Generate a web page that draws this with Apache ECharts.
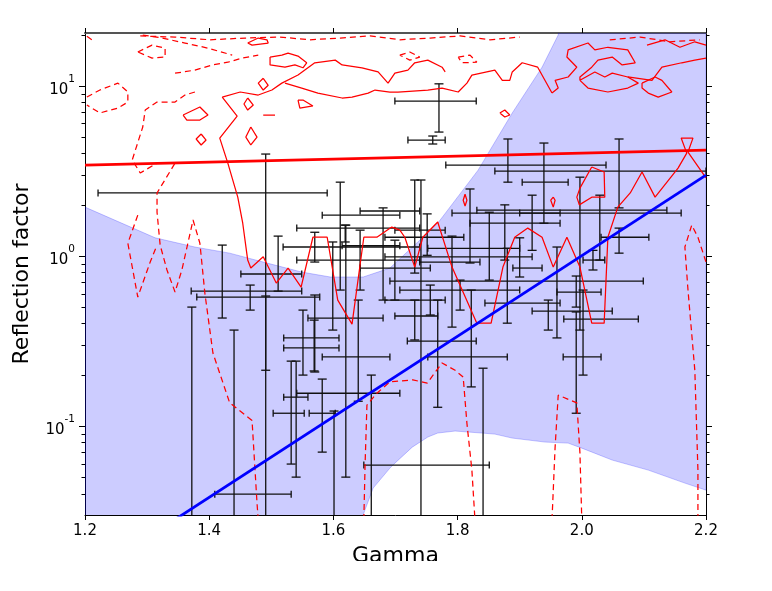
<!DOCTYPE html>
<html><head><meta charset="utf-8">
<script src="https://cdn.jsdelivr.net/npm/echarts@6/dist/echarts.min.js"></script>
<style>html,body{margin:0;padding:0;background:#fff;width:772px;height:591px;overflow:hidden}#c{width:772px;height:561px}</style>
</head><body><div id="c"></div><script>
// ---- axis ticks ----
const xTicks = [1.2, 1.4, 1.6, 1.8, 2.0, 2.2];
const yMajorTicks = [0.1, 1, 10];
const yMinorTicks = [0.04,0.05,0.06,0.07,0.08,0.09,0.2,0.3,0.4,0.5,0.6,0.7,0.8,0.9,2,3,4,5,6,7,8,9,20];

// ---- shaded band (upper edge left->right, lower edge right->left) ----
const bandUpper = [[1.2,1.94],[1.313,1.28],[1.377,1.13],[1.433,1.04],[1.487,0.922],[1.549,0.805],[1.595,0.753],[1.648,0.753],[1.691,0.85],[1.736,1.21],[1.768,1.56],[1.833,3.2],[1.888,6.94],[1.936,12.9],[1.962,19.95],[1.975,40],[2.2,40]];
const bandLower = [[2.2,0.042],[2.166,0.0462],[2.107,0.0551],[2.049,0.0631],[2.0,0.0742],[1.978,0.0794],[1.941,0.0805],[1.888,0.085],[1.86,0.0897],[1.839,0.091],[1.796,0.0935],[1.768,0.091],[1.752,0.0862],[1.727,0.0752],[1.699,0.0605],[1.691,0.0566],[1.664,0.0432],[1.649,0.0308],[1.646,0.028],[1.64,0.01],[1.2,0.01]];

// ---- fitted lines ----
const redFit = [[1.2,3.43],[2.2,4.2]];
const blueFit = [[1.2,0.0128],[2.2,2.99]];

// ---- data points with asymmetric errors ----
const ebX     = [1.491,1.491,1.770,1.760,1.881,2.060,1.939,2.060,1.997,2.029,2.018,1.960,1.991,1.991,2.002,1.946,1.611,1.619,1.680,1.511,1.570,1.599,1.421,1.466,1.731,1.751,1.820,1.851,1.791,1.756,1.880,1.900,1.920,1.731,1.768,1.822,1.741,1.841,1.372,1.440,1.601,1.620,1.661,1.551,1.569,1.540,1.532,1.582,1.640,1.570,1.643,1.699,1.876,1.804];
const ebXLow  = [1.221,1.409,1.699,1.720,1.781,1.860,1.904,2.031,1.831,1.900,2.002,1.691,1.960,1.970,1.971,1.920,1.582,1.541,1.643,1.451,1.519,1.541,1.371,1.380,1.699,1.683,1.752,1.683,1.739,1.683,1.844,1.889,1.791,1.699,1.719,1.752,1.649,1.820,1.361,1.430,1.591,1.582,1.651,1.520,1.520,1.520,1.503,1.561,1.541,1.559,1.614,1.643,1.820,1.707];
const ebXHigh = [1.590,1.532,1.830,1.780,2.039,2.200,1.978,2.108,2.137,2.160,2.037,2.099,2.031,2.031,2.091,2.049,1.707,1.739,1.739,1.549,1.739,1.739,1.549,1.578,1.780,1.810,1.900,1.920,1.836,1.780,1.965,1.936,1.965,1.768,1.830,1.880,1.851,1.860,1.385,1.450,1.611,1.691,1.672,1.609,1.609,1.559,1.553,1.603,1.707,1.680,1.707,1.756,1.965,1.900];
const ebY     = [2.35,0.0398,8.16,4.81,3.43,3.16,2.72,1.29,1.86,1.79,0.947,0.713,0.614,0.255,0.426,0.475,1.74,1.46,1.84,0.784,1.13,0.947,0.622,0.574,1.42,1.29,1.11,0.99,0.922,0.551,0.529,0.85,1.79,0.444,0.316,0.255,0.059,0.0163,0.0163,0.0163,0.0163,0.255,0.0163,0.330,0.288,0.148,0.119,0.119,0.156,0.432,1.15,0.85,1.56,0.631];
const ebYHigh = [3.98,0.582,10.3,5.08,4.88,4.88,4.62,1.46,2.91,2.28,1.08,1.13,0.763,0.469,0.631,0.551,2.72,1.52,1.92,1.31,1.38,1.21,1.16,0.675,2.80,1.77,2.48,1.81,1.31,0.675,1.11,1.28,2.28,0.551,0.551,0.631,2.80,0.219,0.501,0.367,0.1226,1.52,0.1995,0.481,0.420,0.241,0.241,0.189,0.551,0.590,1.42,1.24,2.0,0.722];
const ebYLow  = [0.213,0.0095,5.36,4.56,2.72,1.92,1.56,1.04,0.367,0.947,0.828,0.330,0.501,0.119,0.1995,0.367,0.631,1.21,0.551,0.622,0.922,0.367,0.432,0.481,0.794,1.01,0.91,0.722,0.382,0.450,0.403,0.753,1.08,0.321,0.129,0.170,0.0095,0.0095,0.0095,0.0095,0.0095,0.0501,0.0095,0.1995,0.211,0.0501,0.0598,0.0703,0.140,0.208,0.631,0.551,0.947,0.481];

// ---- solid contours ----
const solidMain = [[1.421,8.61],[1.445,6.66],[1.417,4.94],[1.430,3.52],[1.446,2.22],[1.454,1.56],[1.462,0.947],[1.467,0.85],[1.487,0.99],[1.508,0.694],[1.527,0.85],[1.548,0.657],[1.567,1.29],[1.590,1.29],[1.607,0.551],[1.630,0.398],[1.649,1.29],[1.670,1.29],[1.694,1.48],[1.707,1.42],[1.715,1.29],[1.731,0.861],[1.744,1.29],[1.768,1.585],[1.791,0.861],[1.831,0.403],[1.854,0.403],[1.873,0.861],[1.892,1.29],[1.913,1.46],[1.936,1.29],[1.954,0.861],[1.976,1.29],[1.997,0.861],[2.016,0.403],[2.036,0.403],[2.042,1.29],[2.058,1.94],[2.078,2.35],[2.097,3.12],[2.118,2.22],[2.155,3.29],[2.169,4.03],[2.160,4.94],[2.179,4.94],[2.171,4.09],[2.2,2.88]];
const solidTopA = [[1.421,8.61],[1.450,9.22],[1.479,8.85],[1.501,9.47],[1.517,10.4],[1.543,11.6],[1.570,13.7],[1.603,14.2],[1.614,13.3],[1.646,12.8],[1.672,12.1],[1.688,10.4],[1.699,11.9],[1.720,12.4],[1.731,13.7],[1.752,14.2],[1.775,12.9],[1.780,12.1]];
const solidTopB = [[1.522,10.4],[1.549,9.73],[1.575,9.09],[1.614,8.50],[1.630,8.61],[1.656,9.09],[1.667,9.47],[1.691,9.22],[1.704,9.22],[1.752,9.47],[1.775,9.73],[1.801,9.22],[1.815,10.4],[1.823,11.6],[1.860,12.4],[1.872,10.8],[1.884,10.8],[1.888,12.1],[1.904,13.7],[1.929,12.9],[1.952,9.09]];
const solidTopRight = [[1.952,9.09],[1.962,9.73],[1.957,10.8],[1.978,11.3],[1.992,12.9],[1.976,14.8],[1.978,16.3],[2.010,17.9],[2.021,16.3],[2.042,16.9],[2.074,16.3],[2.086,13.7],[2.065,13.3],[2.049,14.8],[2.026,14.2],[2.016,12.9],[1.997,11.3],[1.997,10.8],[2.021,12.1],[2.037,11.3],[2.049,11.9],[2.074,11.3],[2.113,10.8],[2.129,12.9],[2.161,13.7],[2.182,14.2],[2.2,14.6]];
const solidStar = [[1.997,10.8],[2.010,9.73],[2.042,9.22],[2.074,9.73],[2.091,10.4],[2.074,11.3]];
const solidLoopR = [[2.097,10.4],[2.118,11.3],[2.129,10.8],[2.145,9.22],[2.123,8.61],[2.107,9.09],[2.097,9.73],[2.097,10.4]];
const solidTopEdge = [[2.105,17.4],[2.134,18.7],[2.158,16.9],[2.182,18.2],[2.2,17.4]];
const blobG = [[1.358,6.75],[1.385,7.52],[1.398,6.75],[1.385,6.31],[1.364,6.31],[1.358,6.75]];
const blobH = [[1.387,5.22],[1.395,4.81],[1.387,4.50],[1.379,4.88],[1.387,5.22]];
const blobE = [[1.462,8.50],[1.471,7.73],[1.462,7.22],[1.456,7.84],[1.462,8.50]];
const blobF = [[1.467,5.74],[1.477,5.01],[1.467,4.50],[1.459,5.01],[1.467,5.74]];
const blobD = [[1.487,11.1],[1.495,10.1],[1.487,9.47],[1.479,10.4],[1.487,11.1]];
const blobB = [[1.498,14.8],[1.517,15.2],[1.527,15.6],[1.543,15.0],[1.557,13.7],[1.551,12.8],[1.538,13.3],[1.522,12.9],[1.498,13.3],[1.498,14.8]];
const blobA = [[1.462,17.9],[1.479,19.15],[1.493,18.7],[1.495,17.9],[1.469,17.4],[1.462,17.9]];
const blobI = [[1.543,8.27],[1.551,8.27],[1.567,7.63],[1.546,7.42],[1.543,8.27]];
const blobJ = [[1.487,6.75],[1.506,6.75]];
const blobK = [[1.868,6.94],[1.876,7.22],[1.884,6.75],[1.876,6.57],[1.868,6.94]];
const blobL = [[1.812,2.31],[1.815,2.13],[1.812,1.97],[1.809,2.13],[1.812,2.31]];
const blobM = [[1.954,2.22],[1.957,2.13],[1.954,1.94],[1.950,2.13],[1.954,2.22]];
const blobN = [[2.016,3.34],[2.036,3.12],[2.037,2.22],[2.016,2.22],[1.996,2.0],[1.992,2.22],[1.997,2.51],[2.016,3.34]];

// ---- dashed contours ----
const dashLeftLoop = [[1.203,8.61],[1.224,9.47],[1.253,10.4],[1.269,9.22],[1.269,8.05],[1.253,7.42],[1.224,6.94],[1.203,7.73]];
const dashCorner = [[1.203,19.6],[1.211,18.7]];
const dashSmallLoop = [[1.285,15.85],[1.308,17.4],[1.329,16.7],[1.329,14.8],[1.308,14.6],[1.285,15.85]];
const dashTopRow = [[1.293,19.95],[1.324,19.15],[1.361,17.9],[1.398,16.7],[1.437,15.2]];
const dashRow2 = [[1.345,11.9],[1.377,12.4],[1.405,13.3],[1.430,13.8],[1.453,14.6],[1.479,15.2]];
const dashLong = [[1.377,9.22],[1.361,8.85],[1.345,8.05],[1.316,8.05],[1.297,7.22],[1.293,5.74],[1.276,3.67],[1.289,3.08],[1.316,3.52],[1.345,3.52],[1.316,2.35],[1.316,1.81],[1.321,1.16],[1.332,0.828],[1.345,0.614],[1.356,0.828],[1.374,1.63],[1.385,1.19],[1.393,0.606],[1.406,0.269],[1.433,0.137],[1.469,0.108],[1.477,0.0352],[1.479,0.028]];
const dashV = [[1.285,1.74],[1.269,1.19],[1.285,0.574],[1.305,0.922],[1.316,1.16]];
const dashMid1 = [[1.649,0.028],[1.651,0.059],[1.654,0.133],[1.670,0.156],[1.691,0.182],[1.728,0.187],[1.751,0.179],[1.775,0.235],[1.796,0.213],[1.809,0.194],[1.815,0.104],[1.823,0.0551],[1.828,0.028]];
const dashMid2 = [[1.952,0.028],[1.957,0.075],[1.962,0.152],[1.992,0.137],[1.997,0.0694],[2.000,0.028]];
const dashRight = [[2.187,0.028],[2.187,0.0551],[2.182,0.213],[2.171,0.631],[2.166,1.13],[2.177,1.52],[2.187,1.29],[2.2,0.922]];
const dashTopEdge = [[1.289,19.7],[1.345,19.4],[1.401,18.7],[1.458,19.15],[1.514,19.4],[1.562,18.7],[1.611,19.15],[1.659,19.7],[1.707,18.7],[1.756,19.15],[1.804,19.7],[1.852,18.7],[1.900,19.4]];
const dashLoopT1 = [[1.707,15.2],[1.723,15.85],[1.739,14.8],[1.723,14.2],[1.707,15.2]];
const dashLoopT2 = [[1.801,14.8],[1.820,15.2],[1.831,13.8],[1.807,13.7],[1.801,14.8]];
const dashTopRight = [[2.045,18.7],[2.094,19.4],[2.142,18.2],[2.190,18.7]];

const solidContours = [solidMain, solidTopA, solidTopB, solidTopRight, solidStar, solidLoopR, solidTopEdge, blobG, blobH, blobE, blobF, blobD, blobB, blobA, blobI, blobJ, blobK, blobL, blobM, blobN];
const dashedContours = [dashLeftLoop, dashCorner, dashSmallLoop, dashTopRow, dashRow2, dashLong, dashV, dashMid1, dashMid2, dashRight, dashTopEdge, dashLoopT1, dashLoopT2, dashTopRight];

const FONT = 'DejaVu Sans';
const chart = echarts.init(document.getElementById('c'), null, {renderer: 'canvas'});

const ebData = ebX.map((v, i) => [v, ebXLow[i], ebXHigh[i], ebY[i], ebYLow[i], ebYHigh[i]]);

function renderErr(params, api) {
  const x = api.value(0), xl = api.value(1), xh = api.value(2);
  const y = api.value(3), yl = api.value(4), yh = api.value(5);
  const c = api.coord([x, y]);
  const pl = api.coord([xl, y]), ph = api.coord([xh, y]);
  const pt = api.coord([x, yh]), pb = api.coord([x, yl]);
  const st = {stroke: '#111', lineWidth: 1.3};
  const cw = 4.5, ch = 3.5;
  return {type: 'group', children: [
    {type: 'line', shape: {x1: pl[0], y1: c[1], x2: ph[0], y2: c[1]}, style: st},
    {type: 'line', shape: {x1: c[0], y1: pt[1], x2: c[0], y2: pb[1]}, style: st},
    {type: 'line', shape: {x1: pl[0], y1: c[1] - ch, x2: pl[0], y2: c[1] + ch}, style: st},
    {type: 'line', shape: {x1: ph[0], y1: c[1] - ch, x2: ph[0], y2: c[1] + ch}, style: st},
    {type: 'line', shape: {x1: c[0] - cw, y1: pt[1], x2: c[0] + cw, y2: pt[1]}, style: st},
    {type: 'line', shape: {x1: c[0] - cw, y1: pb[1], x2: c[0] + cw, y2: pb[1]}, style: st}
  ]};
}

function renderBand(params, api) {
  const pts = bandUpper.concat(bandLower).map(p => api.coord(p));
  return {type: 'polygon', shape: {points: pts},
    style: {fill: 'rgba(0,0,255,0.2)', stroke: 'rgba(0,0,255,0.22)', lineWidth: 1}};
}

const series = [];
series.push({type: 'custom', name: 'band', renderItem: renderBand, data: [[1.5, 1]], clip: true, z: 1, silent: true, animation: false});
series.push({type: 'custom', name: 'points', renderItem: renderErr, data: ebData, clip: true, z: 2,
  encode: {x: [0, 1, 2], y: [3, 4, 5]}, animation: false, silent: true});
solidContours.forEach(d => series.push({type: 'line', data: d, symbol: 'none', clip: true, z: 3, silent: true, animation: false,
  lineStyle: {color: '#ff0000', width: 1.25, type: 'solid'}}));
dashedContours.forEach(d => series.push({type: 'line', data: d, symbol: 'none', clip: true, z: 3, silent: true, animation: false,
  lineStyle: {color: '#ff0000', width: 1.25, type: [6, 4]}}));
series.push({type: 'line', data: redFit, symbol: 'none', clip: true, z: 4, animation: false, lineStyle: {color: '#ff0000', width: 2.8}});
series.push({type: 'line', data: blueFit, symbol: 'none', clip: true, z: 5, animation: false, lineStyle: {color: '#0000ff', width: 2.8}});

const yBase = {type: 'log', min: 0.03, max: 20.5, splitLine: {show: false}};
chart.setOption({
  animation: false,
  backgroundColor: '#fff',
  grid: {left: 85, right: 66, top: 33, bottom: 46, containLabel: false, outerBoundsMode: 'none'},
  xAxis: [
    {type: 'value', position: 'bottom', min: 1.2, max: 2.2, interval: 0.2,
      name: 'Gamma', nameLocation: 'middle', nameGap: 30,
      nameTextStyle: {fontFamily: FONT, fontSize: 22, color: '#000'},
      axisLine: {show: true, onZero: false, lineStyle: {color: '#000', width: 1}},
      axisTick: {show: true, inside: false, length: 5, customValues: xTicks, lineStyle: {color: '#000'}},
      axisLabel: {show: true, margin: 9, customValues: xTicks, fontFamily: FONT, fontSize: 15, color: '#000',
        formatter: v => Number(v).toFixed(1)},
      splitLine: {show: false}},
    {type: 'value', position: 'top', min: 1.2, max: 2.2, interval: 0.2,
      axisLine: {show: true, onZero: false, lineStyle: {color: '#555', width: 2}},
      axisTick: {show: true, inside: false, length: 5, customValues: xTicks, lineStyle: {color: '#000'}},
      axisLabel: {show: false}, splitLine: {show: false}}
  ],
  yAxis: [
    Object.assign({}, yBase, {position: 'left',
      name: 'Reflection factor', nameLocation: 'middle', nameGap: 52, nameRotate: 90,
      nameTextStyle: {fontFamily: FONT, fontSize: 22, color: '#000'},
      axisLine: {show: true, onZero: false, lineStyle: {color: '#000', width: 1}},
      axisTick: {show: true, inside: false, length: 6, customValues: yMajorTicks, lineStyle: {color: '#000'}},
      axisLabel: {show: true, margin: 10, customValues: yMajorTicks, color: '#000',
        formatter: v => '{b|10}{s|' + Math.round(Math.log10(v)) + '}',
        rich: {b: {fontFamily: FONT, fontSize: 15, color: '#000', lineHeight: 24, verticalAlign: 'bottom'},
               s: {fontFamily: FONT, fontSize: 10.5, color: '#000', lineHeight: 24, verticalAlign: 'top'}}}}),
    Object.assign({}, yBase, {position: 'left',
      axisLine: {show: false},
      axisTick: {show: true, inside: false, length: 3.5, customValues: yMinorTicks, lineStyle: {color: '#000'}},
      axisLabel: {show: false}}),
    Object.assign({}, yBase, {position: 'right',
      axisLine: {show: true, onZero: false, lineStyle: {color: '#000', width: 1}},
      axisTick: {show: true, inside: false, length: 6, customValues: yMajorTicks, lineStyle: {color: '#000'}},
      axisLabel: {show: false}}),
    Object.assign({}, yBase, {position: 'right',
      axisLine: {show: false},
      axisTick: {show: true, inside: false, length: 3.5, customValues: yMinorTicks, lineStyle: {color: '#000'}},
      axisLabel: {show: false}})
  ],
  series: series
});
</script></body></html>
